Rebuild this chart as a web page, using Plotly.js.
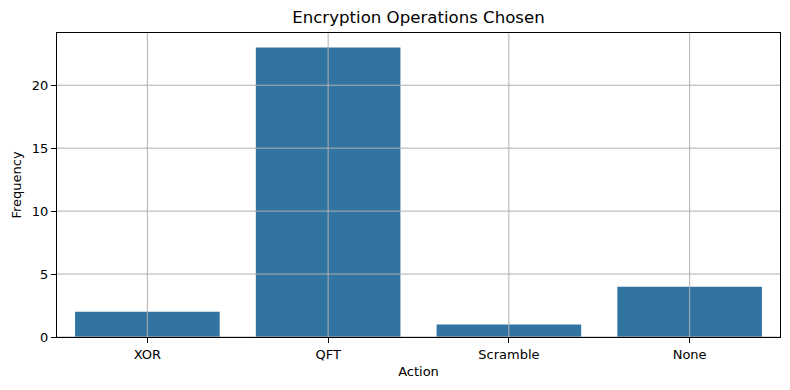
<!DOCTYPE html>
<html>
<head>
<meta charset="utf-8">
<script src="https://cdn.plot.ly/plotly-3.0.1.min.js"></script>
<style>
  html, body { margin: 0; padding: 0; background: #fff; }
  #chart { width: 790px; height: 390px; }
</style>
</head>
<body>
<div id="chart"></div>
<script>
const actions = ["XOR", "QFT", "Scramble", "None"]
const frequency = [2, 23, 1, 4]
const yTicks = [0, 5, 10, 15, 20]

const gridColor = "#b0b0b0"

// matplotlib draws the grid over the bars, so use shapes on the top layer
let gridShapes = []
actions.forEach(a => {
    gridShapes.push({
        type: "line", layer: "above",
        xref: "x", yref: "paper",
        x0: a, x1: a, y0: 0, y1: 1,
        line: { color: gridColor, width: 1 }
    })
})
yTicks.forEach(v => {
    gridShapes.push({
        type: "line", layer: "above",
        xref: "paper", yref: "y",
        x0: 0, x1: 1, y0: v, y1: v,
        line: { color: gridColor, width: 1 }
    })
})

let trace = {
    x: actions,
    y: frequency,
    type: "bar",
    width: 0.8,
    marker: { color: "#3274a1", line: { width: 0 } },
    hoverinfo: "x+y"
}

let layout = {
    width: 790,
    height: 390,
    margin: { l: 57, r: 10, t: 33, b: 53 },
    paper_bgcolor: "#fff",
    plot_bgcolor: "#fff",
    font: { family: "DejaVu Sans", size: 13, color: "#000" },
    title: {
        text: "Encryption Operations Chosen",
        font: { size: 16.6 },
        xref: "paper", x: 0.5, xanchor: "center",
        yref: "container", y: 1 - 17 / 390, yanchor: "middle"
    },
    showlegend: false,
    bargap: 0.2,
    xaxis: {
        title: { text: "Action", font: { size: 13 }, standoff: 6 },
        range: [-0.5, 3.5],
        showgrid: false,
        zeroline: false,
        showline: true, linecolor: "#000", linewidth: 1, mirror: true,
        ticks: "outside", ticklen: 5, tickwidth: 1, tickcolor: "#000",
        tickfont: { size: 13 }
    },
    yaxis: {
        title: { text: "Frequency", font: { size: 13 }, standoff: 7 },
        range: [0, 24.15],
        tickvals: yTicks,
        showgrid: false,
        zeroline: false,
        showline: true, linecolor: "#000", linewidth: 1, mirror: true,
        ticks: "outside", ticklen: 5, tickwidth: 1, tickcolor: "#000",
        tickfont: { size: 13 }
    },
    shapes: gridShapes
}

Plotly.newPlot("chart", [trace], layout, { displayModeBar: false, staticPlot: true })
</script>
</body>
</html>
